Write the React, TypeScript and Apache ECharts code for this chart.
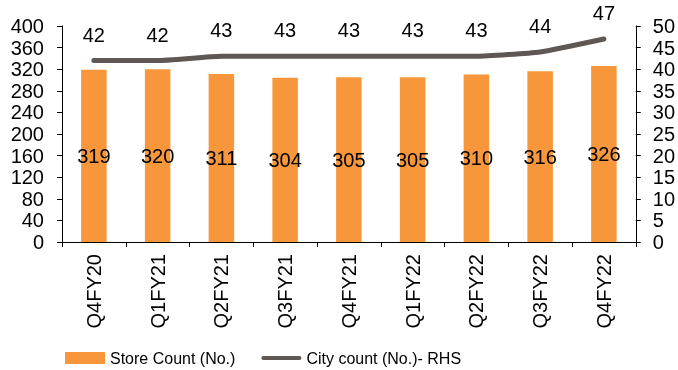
import React, { useEffect, useRef } from "react";
import * as echarts from "echarts";

const categories = ["Q4FY20", "Q1FY21", "Q2FY21", "Q3FY21", "Q4FY21", "Q1FY22", "Q2FY22", "Q3FY22", "Q4FY22"];
const storeCount = [319, 320, 311, 304, 305, 305, 310, 316, 326];
const cityCount = [42, 42, 43, 43, 43, 43, 43, 44, 47];

const FONT = "Liberation Sans, Arial, sans-serif";
const LINE_ICON = "path://M2,0 L38,0 A2,2 0 0 1 38,4 L2,4 A2,2 0 0 1 2,0 Z";

export default function App() {
  const ref = useRef<HTMLDivElement>(null);
  useEffect(() => {
    if (!ref.current) return;
    const chart = echarts.init(ref.current, null, { renderer: "svg" });
    chart.setOption({
      animation: false,
      textStyle: { fontFamily: FONT },
      grid: { left: 62, right: 42, top: 26, bottom: 128, containLabel: false },
      legend: {
        left: 60,
        top: 345,
        itemWidth: 40,
        itemHeight: 12,
        itemGap: 26,
        textStyle: { fontSize: 16, color: "#000", fontFamily: FONT },
        data: [
          { name: "Store Count (No.)", icon: "rect" },
          { name: "City count (No.)- RHS", icon: LINE_ICON },
        ],
      },
      xAxis: {
        type: "category",
        data: categories,
        axisLine: { lineStyle: { color: "#000", width: 1 } },
        axisTick: { show: true, length: 5, lineStyle: { color: "#000" } },
        axisLabel: { rotate: 90, fontSize: 20, color: "#000", margin: 12, fontFamily: FONT },
      },
      yAxis: [
        {
          type: "value",
          min: 0,
          max: 400,
          interval: 40,
          splitLine: { show: false },
          axisLine: { show: true, lineStyle: { color: "#000" } },
          axisTick: { show: true, length: 5, lineStyle: { color: "#000" } },
          axisLabel: { fontSize: 20, color: "#000", margin: 18, fontFamily: FONT },
        },
        {
          type: "value",
          min: 0,
          max: 50,
          interval: 5,
          position: "right",
          splitLine: { show: false },
          axisLine: { show: true, lineStyle: { color: "#000" } },
          axisTick: { show: true, length: 5, lineStyle: { color: "#000" } },
          axisLabel: { fontSize: 20, color: "#000", margin: 17, fontFamily: FONT },
        },
      ],
      series: [
        {
          name: "Store Count (No.)",
          type: "bar",
          data: storeCount,
          barWidth: "40%",
          itemStyle: { color: "#F7963A" },
          label: { show: true, position: "inside", fontSize: 20, color: "#000", fontFamily: FONT },
        },
        {
          name: "City count (No.)- RHS",
          type: "line",
          yAxisIndex: 1,
          data: cityCount,
          smooth: 0.15,
          symbol: "circle",
          symbolSize: 0.1,
          showSymbol: true,
          lineStyle: { color: "#5E5753", width: 5, cap: "round" },
          itemStyle: { color: "#5E5753" },
          label: { show: true, position: "top", distance: 16, fontSize: 20, color: "#000", fontFamily: FONT },
        },
      ],
    });
    return () => chart.dispose();
  }, []);
  return <div ref={ref} style={{ position: "fixed", left: 0, top: 0, width: 678, height: 370 }} />;
}
